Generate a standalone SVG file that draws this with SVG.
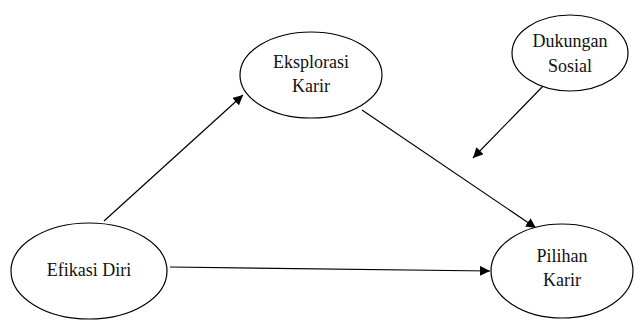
<svg xmlns="http://www.w3.org/2000/svg" width="634" height="322" viewBox="0 0 634 322">
<style>
.n{fill:#fff;stroke:#000;stroke-width:1.2}
.t{font-family:'Liberation Serif','DejaVu Serif',serif;font-size:18px;fill:#111;text-anchor:middle}
.c{stroke:#000;stroke-width:1.2;fill:none;marker-end:url(#ah)}
</style>
<defs>
<marker id="ah" viewBox="0 0 10 10" refX="10" refY="5" markerWidth="10" markerHeight="10" markerUnits="userSpaceOnUse" orient="auto">
<path d="M0,0 L10,5 L0,10 z" fill="#000"/>
</marker>
</defs>
<rect width="634" height="322" fill="#fff"/>
<g id="connectors">
<line class="c" x1="104" y1="221" x2="243" y2="95"/>
<line class="c" x1="170" y1="267" x2="490" y2="271"/>
<line class="c" x1="362" y1="110" x2="536" y2="228"/>
<line class="c" x1="546" y1="83" x2="473" y2="158"/>
</g>
<g id="eksplorasi">
<ellipse class="n" cx="311" cy="75" rx="71" ry="43"/>
<text class="t" x="311" y="68">Eksplorasi</text>
<text class="t" x="311" y="92">Karir</text>
</g>
<g id="dukungan">
<ellipse class="n" cx="570" cy="53" rx="58" ry="38"/>
<text class="t" x="570" y="47">Dukungan</text>
<text class="t" x="570" y="72">Sosial</text>
</g>
<g id="efikasi">
<ellipse class="n" cx="89" cy="271" rx="78" ry="48"/>
<text class="t" x="89" y="276">Efikasi Diri</text>
</g>
<g id="pilihan">
<ellipse class="n" cx="562" cy="271" rx="71" ry="47"/>
<text class="t" x="562" y="262">Pilihan</text>
<text class="t" x="562" y="286">Karir</text>
</g>
</svg>
